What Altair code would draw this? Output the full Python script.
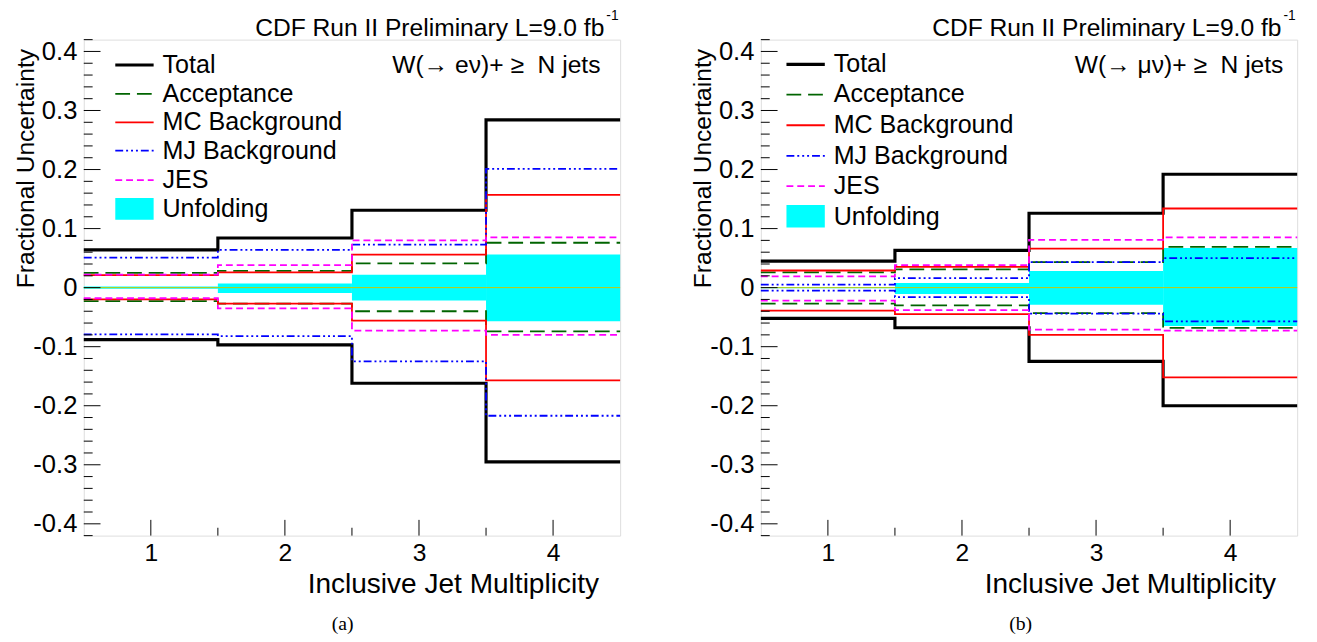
import altair as alt
import pandas as pd

# ---------------- data ----------------
jets = [1, 2, 3, 4]
series = ["Total", "Acceptance", "MC Background", "MJ Background", "JES"]

# W -> e nu  (panel a)
e_total_up = [0.064, 0.084, 0.131, 0.284]
e_total_lo = [-0.088, -0.097, -0.162, -0.295]
e_acc_up = [0.025, 0.0285, 0.041, 0.076]
e_acc_lo = [-0.023, -0.027, -0.040, -0.074]
e_mc_up = [0.021, 0.026, 0.056, 0.157]
e_mc_lo = [-0.020, -0.027, -0.056, -0.157]
e_mj_up = [0.051, 0.064, 0.073, 0.201]
e_mj_lo = [-0.079, -0.082, -0.125, -0.217]
e_jes_up = [0.022, 0.038, 0.080, 0.085]
e_jes_lo = [-0.018, -0.035, -0.073, -0.080]
e_unf_up = [0.002, 0.007, 0.022, 0.056]
e_unf_lo = [-0.002, -0.009, -0.022, -0.057]

# W -> mu nu  (panel b)
m_total_up = [0.045, 0.063, 0.126, 0.192]
m_total_lo = [-0.052, -0.068, -0.125, -0.200]
m_acc_up = [0.026, 0.031, 0.043, 0.069]
m_acc_lo = [-0.027, -0.030, -0.043, -0.068]
m_mc_up = [0.029, 0.035, 0.066, 0.134]
m_mc_lo = [-0.039, -0.045, -0.080, -0.152]
m_mj_up = [0.005, 0.016, 0.043, 0.050]
m_mj_lo = [-0.005, -0.016, -0.044, -0.057]
m_jes_up = [0.019, 0.038, 0.081, 0.085]
m_jes_lo = [-0.022, -0.038, -0.071, -0.073]
m_unf_up = [0.001, 0.008, 0.028, 0.067]
m_unf_lo = [-0.001, -0.011, -0.029, -0.065]

y_tick_values = [-0.4, -0.3, -0.2, -0.1, 0.0, 0.1, 0.2, 0.3, 0.4]
x_tick_values = [1, 2, 3, 4]

# ---------------- styles ----------------
FONT = "Liberation Sans"
W, H = 545, 504
colors = {"Total": "#000000", "Acceptance": "#006400", "MC Background": "#ff0000",
          "MJ Background": "#0000ff", "JES": "#ff00ff"}
dashes = {"Total": [1, 0], "Acceptance": [15, 7], "MC Background": [1, 0],
          "MJ Background": [8, 3, 2, 3, 2, 3, 2, 3], "JES": [7, 4]}
widths = {"Total": 3.2, "Acceptance": 1.8, "MC Background": 1.8,
          "MJ Background": 1.8, "JES": 1.8}

xscale = alt.Scale(domain=[0.5, 4.5], nice=False, zero=False)
yscale = alt.Scale(domain=[-0.42, 0.42], nice=False, zero=False)

xaxis = alt.Axis(values=x_tick_values, format="d", labelFont=FONT, labelFontSize=25,
                 labelColor="black", labelPadding=5, tickSize=0, ticks=False,
                 domain=False, grid=False, title="Inclusive Jet Multiplicity",
                 titleFont=FONT, titleFontSize=28.5, titleFontWeight="normal",
                 titleColor="black", titleX=W - 22, titleY=58, titleAlign="right",
                 titleBaseline="alphabetic")
yaxis = alt.Axis(values=y_tick_values,
                 labelExpr="datum.value == 0 ? '0' : (datum.value < 0 ? '-' : '') + format(abs(datum.value), '.1f')",
                 labelFont=FONT, labelFontSize=26, labelColor="black", labelPadding=7,
                 tickSize=0, ticks=False, domain=False, grid=False,
                 title="Fractional Uncertainty", titleFont=FONT, titleFontSize=25,
                 titleFontWeight="normal", titleColor="black", titleAngle=270,
                 titleAlign="right", titleBaseline="middle", titleX=-59, titleY=9)


def X(f):
    return alt.X(f, type="quantitative", scale=xscale, axis=xaxis)


def Y(f):
    return alt.Y(f, type="quantitative", scale=yscale, axis=yaxis)


def steps(vals):
    edges = [j - 0.5 for j in jets] + [jets[-1] + 0.5]
    return pd.DataFrame({"x": edges, "v": list(vals) + [vals[-1]]})


def panel(data, unf_up, unf_lo, channel_text, sub, leg):
    layers = []
    band = pd.DataFrame({"x0": [j - 0.5 for j in jets], "x1": [j + 0.5 for j in jets],
                         "lo": unf_lo, "up": unf_up})
    layers.append(alt.Chart(band).mark_rect(color="#00ffff", opacity=1).encode(
        x=X("x0"), x2="x1", y=Y("lo"), y2="up"))
    for s in series:
        up, lo = data[s]
        for vals in (up, lo):
            layers.append(alt.Chart(steps(vals)).mark_line(
                interpolate="step-after", color=colors[s], strokeDash=dashes[s],
                strokeWidth=widths[s]).encode(x=X("x"), y=Y("v")))
    # zero line
    layers.append(alt.Chart(pd.DataFrame({"z": [0.0]})).mark_rule(
        color="#c8c800", strokeWidth=1).encode(y=Y("z"), x=alt.value(0), x2=alt.value(W)))
    # inward ticks (ROOT style)
    ymaj = pd.DataFrame({"t": y_tick_values})
    ymin = pd.DataFrame({"t": [round(k * 0.02, 2) for k in range(-21, 22) if k % 5 != 0]})
    xmaj = pd.DataFrame({"t": x_tick_values})
    xmin = pd.DataFrame({"t": [j + 0.5 for j in jets[:-1]]})
    layers.append(alt.Chart(ymaj).mark_rule(color="black", strokeWidth=1).encode(
        y=Y("t"), x=alt.value(0), x2=alt.value(17)))
    layers.append(alt.Chart(ymin).mark_rule(color="black", strokeWidth=1).encode(
        y=Y("t"), x=alt.value(0), x2=alt.value(9)))
    layers.append(alt.Chart(xmaj).mark_rule(color="black", strokeWidth=1).encode(
        x=X("t"), y=alt.value(H), y2=alt.value(H - 16)))
    layers.append(alt.Chart(xmin).mark_rule(color="black", strokeWidth=1).encode(
        x=X("t"), y=alt.value(H), y2=alt.value(H - 8)))
    # legend
    for i, s in enumerate(series):
        d = pd.DataFrame({"a": [leg["x0"]], "b": [leg["x1"]], "y": [leg["rows"][i]],
                          "tx": [leg["tx"]], "label": [s]})
        layers.append(alt.Chart(d).mark_rule(color=colors[s], strokeDash=dashes[s],
                                             strokeWidth=widths[s]).encode(
            x=X("a"), x2="b", y=Y("y")))
        layers.append(alt.Chart(d).mark_text(align="left", baseline="middle", font=FONT,
                                             fontSize=25.5, color="black").encode(
            x=X("tx"), y=Y("y"), text="label:N"))
    d = pd.DataFrame({"a": [leg["x0"]], "b": [leg["x1"]], "y0": [leg["box"][0]],
                      "y1": [leg["box"][1]], "tx": [leg["tx"]],
                      "y": [leg["rows"][5]], "label": ["Unfolding"]})
    layers.append(alt.Chart(d).mark_rect(color="#00ffff").encode(
        x=X("a"), x2="b", y=Y("y0"), y2="y1"))
    layers.append(alt.Chart(d).mark_text(align="left", baseline="middle", font=FONT,
                                         fontSize=25.5, color="black").encode(
        x=X("tx"), y=Y("y"), text="label:N"))
    # texts
    t = pd.DataFrame({"s": [channel_text]})
    layers.append(alt.Chart(t).mark_text(align="right", baseline="middle", font=FONT,
                                         fontSize=25, color="black").encode(
        x=alt.value(leg["chx"]), y=alt.value(26), text="s:N"))
    t = pd.DataFrame({"s": ["CDF Run II Preliminary L=9.0 fb"]})
    layers.append(alt.Chart(t).mark_text(align="right", baseline="alphabetic", font=FONT,
                                         fontSize=25, color="black").encode(
        x=alt.value(W - 16), y=alt.value(-4), text="s:N"))
    t = pd.DataFrame({"s": ["-1"]})
    layers.append(alt.Chart(t).mark_text(align="left", baseline="alphabetic", font=FONT,
                                         fontSize=14, color="black").encode(
        x=alt.value(W - 14), y=alt.value(-20), text="s:N"))
    t = pd.DataFrame({"s": [sub]})
    layers.append(alt.Chart(t).mark_text(align="center", baseline="middle",
                                         font="Liberation Serif", fontSize=20,
                                         color="black").encode(
        x=alt.value(leg["subx"]), y=alt.value(594), text="s:N"))
    return alt.layer(*layers).properties(width=W, height=H)


e_data = {"Total": (e_total_up, e_total_lo), "Acceptance": (e_acc_up, e_acc_lo),
          "MC Background": (e_mc_up, e_mc_lo), "MJ Background": (e_mj_up, e_mj_lo),
          "JES": (e_jes_up, e_jes_lo)}
m_data = {"Total": (m_total_up, m_total_lo), "Acceptance": (m_acc_up, m_acc_lo),
          "MC Background": (m_mc_up, m_mc_lo), "MJ Background": (m_mj_up, m_mj_lo),
          "JES": (m_jes_up, m_jes_lo)}

leg_e = {"x0": 0.735, "x1": 1.021, "tx": 1.087,
         "rows": [0.377, 0.328, 0.280, 0.232, 0.182, 0.133],
         "box": [0.115, 0.152], "chx": 525, "subx": 263}
leg_m = {"x0": 0.691, "x1": 0.977, "tx": 1.043,
         "rows": [0.378, 0.327, 0.275, 0.223, 0.172, 0.120],
         "box": [0.102, 0.140], "chx": 531, "subx": 264}

NB = "\u00a0"
left = panel(e_data, e_unf_up, e_unf_lo, "W(\u2192 e\u03bd)+ \u2265" + NB + NB + "N jets", "(a)", leg_e)
right = panel(m_data, m_unf_up, m_unf_lo, "W(\u2192 \u03bc\u03bd)+ \u2265" + NB + NB + "N jets", "(b)", leg_m)

chart = alt.hconcat(left, right, spacing=64).properties(
    padding={"left": 5, "top": -5, "right": 5, "bottom": 5}
).configure_view(stroke="black", strokeWidth=1.3).configure(background="white")

chart.save("out.html", embed_options={"renderer": "svg", "actions": False})
